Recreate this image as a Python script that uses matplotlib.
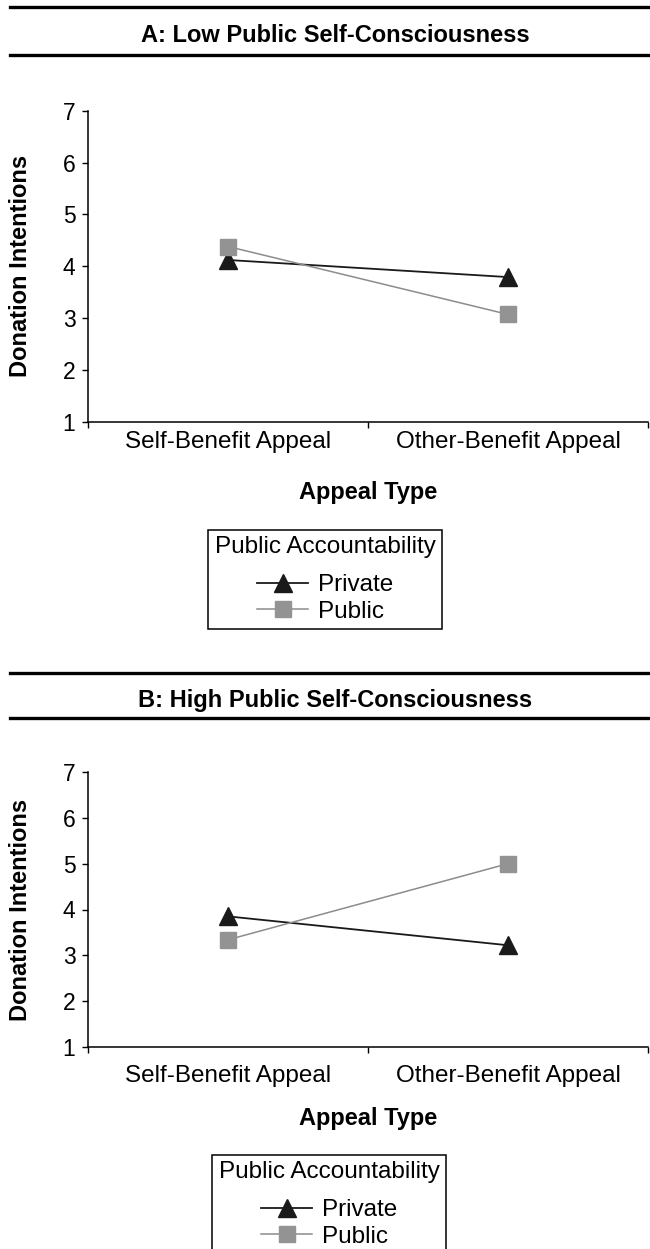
import matplotlib
matplotlib.use("Agg")
import matplotlib.pyplot as plt
from matplotlib.lines import Line2D

plt.rcParams['font.family'] = ['Liberation Sans', 'DejaVu Sans']

categories = ["Self-Benefit Appeal", "Other-Benefit Appeal"]
panel_titles = ["A: Low Public Self-Consciousness", "B: High Public Self-Consciousness"]
series_names = ["Private", "Public"]
# donation intentions per panel: [private, public]
low_private = [4.12, 3.79]
low_public = [4.38, 3.07]
high_private = [3.85, 3.22]
high_public = [3.34, 5.00]
y_ticks = [1, 2, 3, 4, 5, 6, 7]

W, H = 650, 1249
fig = plt.figure(figsize=(W / 100, H / 100), dpi=100)


def fx(x):
    return x / W


def fy(y):
    return 1 - y / H


def hline(y):
    fig.add_artist(Line2D([fx(10), fx(650)], [fy(y), fy(y)], color="black",
                          lw=2.4, transform=fig.transFigure))


def panel(title, title_y, rules, top, bottom, priv, pub, xpad, leg_top, leg_x):
    for r in rules:
        hline(r)
    fig.text(fx(335), fy(title_y), title, ha="center", va="center",
             fontsize=17, fontweight="bold")
    ax = fig.add_axes([fx(88), fy(bottom), fx(648) - fx(88), fy(top) - fy(bottom)])
    x = [0, 1]
    ax.plot(x, priv, color="#1a1a1a", lw=1.3, marker="^", ms=13,
            mec="#1a1a1a", mfc="#1a1a1a", label=series_names[0], zorder=3)
    ax.plot(x, pub, color="#8c8c8c", lw=1.1, marker="s", ms=12,
            mec="#939393", mfc="#939393", label=series_names[1], zorder=3)
    ax.set_xlim(-0.5, 1.5)
    ax.set_ylim(1, 7)
    ax.set_yticks(y_ticks)
    ax.set_xticks(x)
    ax.set_xticklabels(categories, fontsize=17.5)
    ax.set_xticks([-0.5, 0.5, 1.5], minor=True)
    ax.tick_params(axis="x", which="major", length=0, pad=xpad)
    ax.tick_params(axis="x", which="minor", length=4, direction="out", width=1)
    ax.tick_params(axis="y", length=4, width=1, direction="out", pad=5, labelsize=16.5)
    for s in ["top", "right"]:
        ax.spines[s].set_visible(False)
    for s in ["left", "bottom"]:
        ax.spines[s].set_linewidth(1.1)
    ax.set_ylabel("Donation Intentions", fontsize=17, fontweight="bold", va="center")
    ax.yaxis.set_label_coords((21 - 88) / 560, 0.5)
    ax.text(0.5, -(71 / (bottom - top)), "Appeal Type", transform=ax.transAxes,
            ha="center", va="center", fontsize=17, fontweight="bold")
    leg = ax.legend(title="Public Accountability", loc="upper center",
                    bbox_to_anchor=(fx(leg_x), fy(leg_top)), bbox_transform=fig.transFigure,
                    fontsize=17.5, title_fontsize=17.5, frameon=True, fancybox=False,
                    edgecolor="black", framealpha=1, handlelength=2.1, handletextpad=0.4,
                    labelspacing=0.2, borderpad=0.25, alignment="center", borderaxespad=0)
    leg.get_frame().set_linewidth(1.1)
    # extra gap between the legend title and its entries
    leg._legend_box.sep = 11.5
    return ax


panel(panel_titles[0], 35, [7, 55], 110.7, 421.7, low_private, low_public, 7, 530, 325)
panel(panel_titles[1], 700, [673, 718], 772, 1047, high_private, high_public, 13, 1155, 329)

plt.savefig("out.png", dpi=100)
